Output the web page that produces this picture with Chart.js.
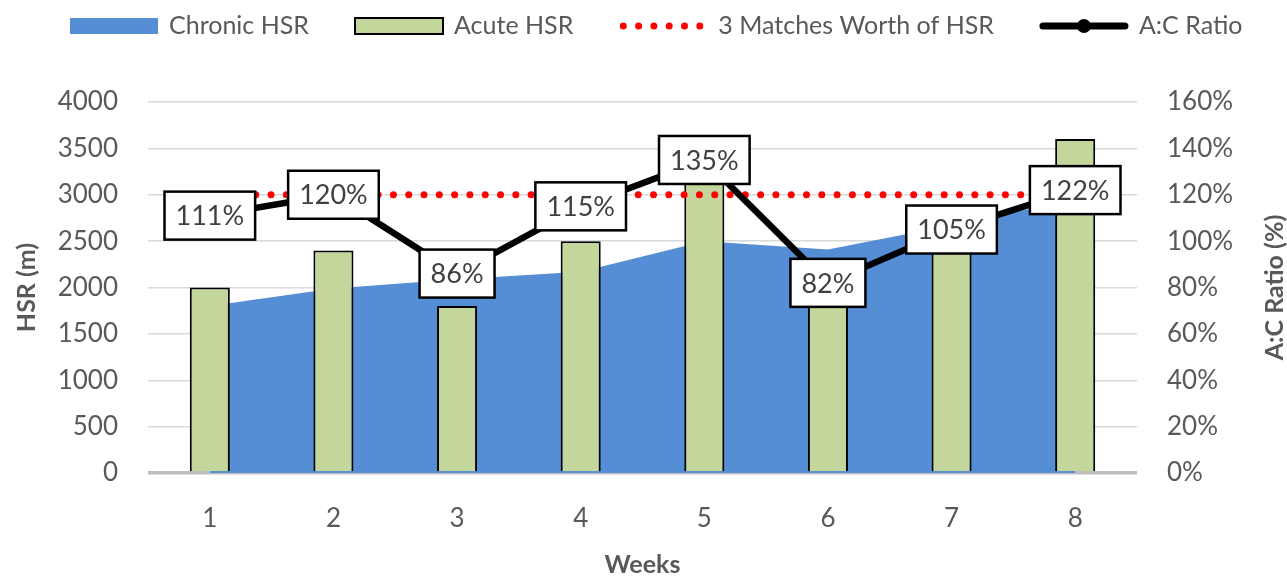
<!DOCTYPE html>
<html>
<head>
<meta charset="utf-8">
<script src="https://cdn.jsdelivr.net/npm/chart.js@4.4.1/dist/chart.umd.min.js"></script>
<style>
  html, body { margin: 0; padding: 0; background: #fff; }
</style>
</head>
<body>
<canvas id="chart" width="1287" height="577"></canvas>
<script>
// --- Data ---
const weeks = ['1', '2', '3', '4', '5', '6', '7', '8'];
const chronicHSR = [1800, 1990, 2090, 2170, 2500, 2410, 2670, 2950];
const acuteHSR = [2000, 2400, 1800, 2500, 3380, 1980, 2800, 3600];
const threeMatchesHSR = [3000, 3000, 3000, 3000, 3000, 3000, 3000, 3000];
const acRatio = [111, 120, 86, 115, 135, 82, 105, 122];

const FONT = 'Lato, "Open Sans", sans-serif';
const TEXT = '#595959';

// Legend drawn on the canvas so the swatches can look like Excel's
const legendPlugin = {
    id: 'excelLegend',
    afterDraw(chart) {
        const ctx = chart.ctx;
        const ds = chart.data.datasets;
        let x = 70;
        const y = 26;
        ctx.save();
        ctx.font = '25px ' + FONT;
        ctx.textBaseline = 'middle';
        [0, 1, 2, 3].forEach(i => {
            const d = ds[i];
            const sw = 88;
            if (i === 0) {
                ctx.fillStyle = d.backgroundColor;
                ctx.fillRect(x, y - 8, sw, 16);
            } else if (i === 1) {
                ctx.fillStyle = d.backgroundColor;
                ctx.fillRect(x, y - 8, sw, 16);
                ctx.lineWidth = 2;
                ctx.strokeStyle = '#000';
                ctx.strokeRect(x, y - 8, sw, 16);
            } else if (i === 2) {
                ctx.fillStyle = d.borderColor;
                for (let k = 0; k < 6; k++) {
                    ctx.beginPath();
                    ctx.arc(x + 4 + k * 15.3, y, 3.5, 0, Math.PI * 2);
                    ctx.fill();
                }
            } else {
                ctx.strokeStyle = '#000';
                ctx.lineWidth = 7;
                ctx.lineCap = 'round';
                ctx.beginPath();
                ctx.moveTo(x + 3, y);
                ctx.lineTo(x + sw - 3, y);
                ctx.stroke();
                ctx.fillStyle = '#000';
                ctx.beginPath();
                ctx.arc(x + sw / 2, y, 7, 0, Math.PI * 2);
                ctx.fill();
            }
            ctx.fillStyle = TEXT;
            ctx.fillText(d.label, x + sw + 11, y);
            x += sw + 11 + ctx.measureText(d.label).width + 46;
        });

        // right axis title, reading bottom to top
        const area = chart.chartArea;
        ctx.translate(1275, (area.top + area.bottom) / 2);
        ctx.rotate(-Math.PI / 2);
        ctx.font = 'bold 25px ' + FONT;
        ctx.textAlign = 'center';
        ctx.fillText('A:C Ratio (%)', 0, 0);
        ctx.restore();
    }
};

// Boxed percentage labels on the A:C ratio line
const ratioLabels = {
    id: 'ratioLabels',
    afterDatasetsDraw(chart) {
        const ctx = chart.ctx;
        const meta = chart.getDatasetMeta(3);
        ctx.save();
        ctx.font = '27px ' + FONT;
        ctx.textAlign = 'center';
        ctx.textBaseline = 'middle';
        meta.data.forEach((pt, i) => {
            const txt = acRatio[i] + '%';
            const w = ctx.measureText(txt).width + 22;
            const h = 48;
            ctx.fillStyle = '#fff';
            ctx.fillRect(pt.x - w / 2, pt.y - h / 2, w, h);
            ctx.lineWidth = 2.5;
            ctx.strokeStyle = '#000';
            ctx.strokeRect(pt.x - w / 2, pt.y - h / 2, w, h);
            ctx.fillStyle = '#404040';
            ctx.fillText(txt, pt.x, pt.y + 1);
        });
        ctx.restore();
    }
};

new Chart(document.getElementById('chart'), {
    type: 'bar',
    data: {
        labels: weeks,
        datasets: [{
            type: 'line',
            label: 'Chronic HSR',
            data: chronicHSR,
            backgroundColor: '#558ED5',
            borderWidth: 0,
            pointRadius: 0,
            fill: 'origin',
            tension: 0,
            yAxisID: 'y',
            order: 4
        }, {
            label: 'Acute HSR',
            data: acuteHSR,
            backgroundColor: '#C3D69B',
            borderColor: '#000',
            borderWidth: 2,
            barPercentage: 0.324,
            categoryPercentage: 1,
            yAxisID: 'y',
            order: 3
        }, {
            type: 'line',
            label: '3 Matches Worth of HSR',
            data: threeMatchesHSR,
            borderColor: '#FF0000',
            borderWidth: 7,
            borderDash: [0, 15.3],
            borderCapStyle: 'round',
            pointRadius: 0,
            fill: false,
            yAxisID: 'y',
            order: 2
        }, {
            type: 'line',
            label: 'A:C Ratio',
            data: acRatio,
            borderColor: '#000',
            borderWidth: 6.5,
            pointRadius: 0,
            fill: false,
            tension: 0,
            yAxisID: 'y1',
            order: 1
        }]
    },
    options: {
        responsive: false,
        devicePixelRatio: 1,
        animation: false,
        layout: { padding: { top: 102, left: 0, right: 0, bottom: 0 } },
        plugins: {
            legend: { display: false },
            tooltip: { enabled: false }
        },
        scales: {
            x: {
                grid: { display: false },
                border: { display: false },
                ticks: { font: { family: FONT, size: 26 }, color: TEXT, padding: 22 },
                title: {
                    display: true, text: 'Weeks', color: TEXT,
                    font: { family: FONT, size: 25, weight: 'bold', lineHeight: 1 },
                    padding: { top: 0, bottom: 0 }
                },
                afterFit: s => { s.height = 104; }
            },
            y: {
                position: 'left',
                min: 0, max: 4000,
                ticks: { stepSize: 500, font: { family: FONT, size: 26 }, color: TEXT, padding: 30,
                    callback: v => String(v) },
                grid: {
                    drawTicks: false,
                    color: c => c.tick.value === 0 ? '#BFBFBF' : '#D9D9D9',
                    lineWidth: c => c.tick.value === 0 ? 3.5 : 1.5
                },
                border: { display: false },
                title: {
                    display: true, text: 'HSR (m)', color: TEXT,
                    font: { family: FONT, size: 25, weight: 'bold', lineHeight: 1 },
                    padding: { top: 14, bottom: 0 }
                },
                afterFit: s => { s.width = 148; }
            },
            y1: {
                position: 'right',
                min: 0, max: 160,
                ticks: { stepSize: 20, font: { family: FONT, size: 26 }, color: TEXT, padding: 30,
                    callback: v => v + '%' },
                grid: { display: false, drawTicks: false },
                border: { display: false },
                afterFit: s => { s.width = 150; }
            }
        }
    },
    plugins: [ratioLabels, legendPlugin]
});
</script>
</body>
</html>
